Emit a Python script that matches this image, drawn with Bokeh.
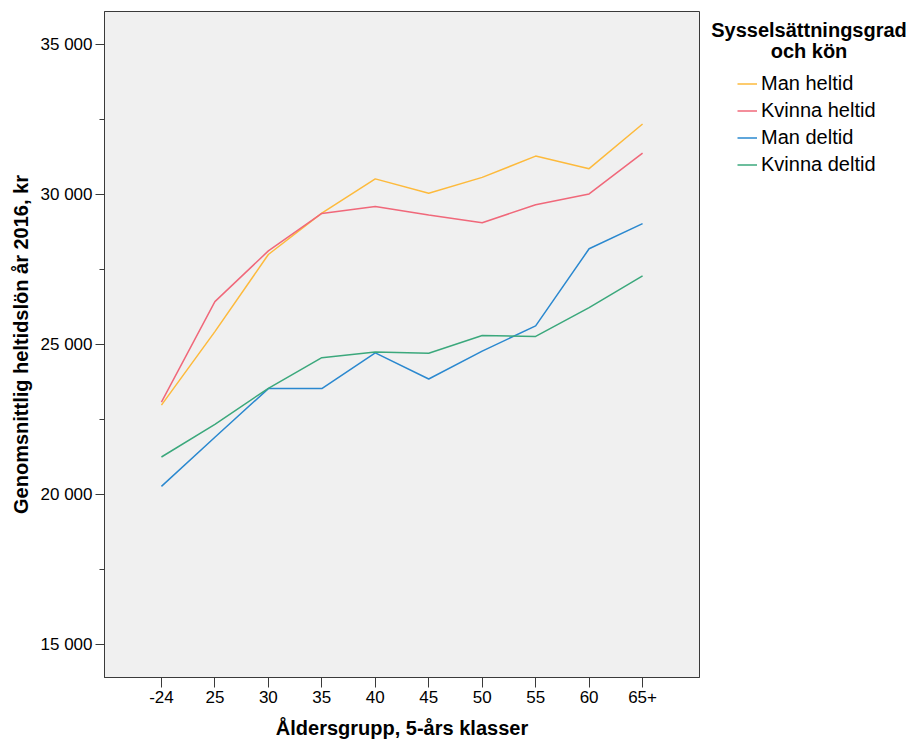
from bokeh.plotting import figure
from bokeh.layouts import row
from bokeh.models import (FactorRange, Range1d, SingleIntervalTicker, Legend,
                          LegendItem, Label)
from bokeh.embed import file_html
from bokeh.resources import INLINE

# ---- data ----
age_groups = ["-24", "25", "30", "35", "40", "45", "50", "55", "60", "65+"]
man_heltid = [22980, 25430, 28000, 29380, 30520, 30040, 30570, 31280, 30860, 32350]
kvinna_heltid = [23080, 26430, 28120, 29370, 29600, 29320, 29060, 29660, 30020, 31380]
man_deltid = [20270, 21910, 23530, 23530, 24720, 23850, 24780, 25620, 28190, 29030]
kvinna_deltid = [21250, 22340, 23540, 24560, 24750, 24710, 25300, 25270, 26230, 27290]
series_names = ["Man heltid", "Kvinna heltid", "Man deltid", "Kvinna deltid"]
series_values = [man_heltid, kvinna_heltid, man_deltid, kvinna_deltid]
series_colors = ["#FDBA3C", "#F0687A", "#2A88CF", "#3BA87C"]
y_ticks = [15000, 20000, 25000, 30000, 35000]
y_tick_labels = ["15 000", "20 000", "25 000", "30 000", "35 000"]
legend_title_lines = ["Sysselsättningsgrad", "och kön"]
x_label = "Åldersgrupp, 5-års klasser"
y_label = "Genomsnittlig heltidslön år 2016, kr"

FONT = "Liberation Sans"
AXC = "#3a3a3a"
H = 742

# ---- main chart ----
p = figure(
    x_range=FactorRange(factors=age_groups, range_padding=0.113),
    y_range=Range1d(13900, 36100),
    width=700, height=H,
    output_backend="svg", toolbar_location=None,
    min_border_left=104, min_border_top=11, min_border_right=1, min_border_bottom=65,
)
p.background_fill_color = "#F0F0F0"
p.border_fill_color = "white"
p.outline_line_color = AXC
p.outline_line_width = 1
p.xgrid.visible = False
p.ygrid.visible = False

p.yaxis.ticker = SingleIntervalTicker(interval=5000, num_minor_ticks=2)
p.yaxis.major_label_overrides = dict(zip(y_ticks, y_tick_labels))
p.yaxis.major_tick_out = 9
p.yaxis.major_tick_in = 0
p.yaxis.minor_tick_out = 5
p.yaxis.minor_tick_in = 0
p.yaxis.major_label_standoff = 3
p.yaxis.axis_label = y_label
p.yaxis.axis_label_standoff = 6

p.xaxis.major_tick_out = 10
p.xaxis.major_tick_in = 0
p.xaxis.minor_tick_out = 0
p.xaxis.major_label_standoff = 3
p.xaxis.axis_label = x_label
p.xaxis.axis_label_standoff = 11

for ax in (p.xaxis, p.yaxis):
    ax.axis_line_color = AXC
    ax.major_tick_line_color = AXC
    ax.minor_tick_line_color = AXC
    ax.major_label_text_font = FONT
    ax.major_label_text_font_size = "17px"
    ax.major_label_text_color = "black"
    ax.axis_label_text_font = FONT
    ax.axis_label_text_font_size = "20px"
    ax.axis_label_text_font_style = "bold"
    ax.axis_label_text_color = "black"

for name, vals, col in zip(series_names, series_values, series_colors):
    p.line(x=age_groups, y=vals, line_color=col, line_width=1.5)

# ---- legend panel (separate figure to the right; its lines lie outside its view) ----
q = figure(
    x_range=FactorRange(factors=age_groups), y_range=Range1d(0, 1),
    width=216, height=H, output_backend="svg", toolbar_location=None,
    x_axis_location=None, y_axis_location=None,
    min_border_left=0, min_border_right=0, min_border_top=0, min_border_bottom=0,
)
q.xgrid.visible = False
q.ygrid.visible = False
q.outline_line_color = None
q.background_fill_color = "white"
q.border_fill_color = "white"

items = []
for name, vals, col in zip(series_names, series_values, series_colors):
    r = q.line(x=age_groups, y=vals, line_color=col, line_width=1.5)
    items.append(LegendItem(label=name, renderers=[r]))

legend = Legend(
    items=items, location=(37, 501),
    padding=0, margin=0, spacing=4,
    glyph_width=20, glyph_height=23, label_height=23, label_standoff=4,
    label_text_font=FONT, label_text_font_size="20px", label_text_color="black",
    border_line_color=None, background_fill_alpha=0,
)
q.add_layout(legend)

for txt, yb in zip(legend_title_lines, [648, 627]):
    q.add_layout(Label(
        x=108.5, y=yb, x_units="screen", y_units="screen", text=txt,
        text_align="center", text_baseline="alphabetic",
        text_font=FONT, text_font_size="20px", text_font_style="bold",
        text_color="black",
    ))

open("out.html", "w").write(file_html(row(p, q), INLINE))
